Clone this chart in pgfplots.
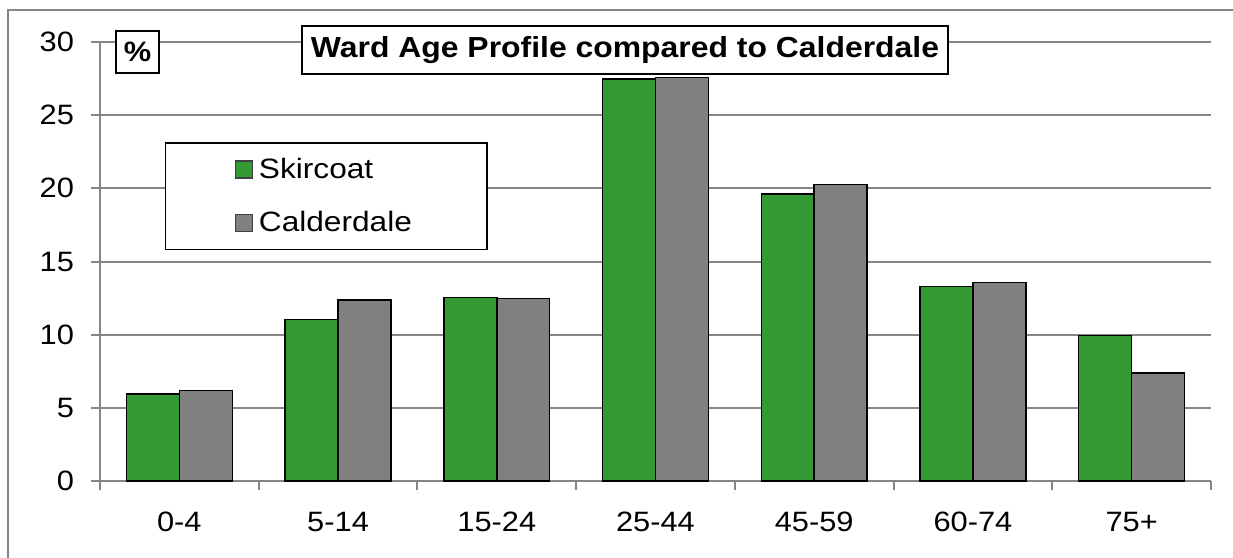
\documentclass[border=0pt]{standalone}
\usepackage{fontspec}
\setmainfont{Liberation Sans}
\usepackage{graphicx}
\usepackage{pgfplots}
\pgfplotsset{compat=1.18}
\definecolor{sgreen}{RGB}{51,153,51}
\definecolor{sgray}{RGB}{128,128,128}
\definecolor{gridgray}{RGB}{134,134,134}
\newcommand{\sx}[1]{\scalebox{1.1}[1]{#1}}
\begin{document}
\begin{tikzpicture}
\useasboundingbox (0,0) rectangle (616.5bp,-279bp);
\draw[gridgray, line width=1bp] (4bp,-280bp) -- (4bp,-5bp) -- (617bp,-5bp);
\begin{axis}[
  at={(50bp,-240.5bp)}, anchor=south west,
  scale only axis, width=555.5bp, height=219.5bp,
  xmin=-0.5, xmax=6.5, ymin=0, ymax=30,
  xtick={0,...,6},
  xticklabels={\sx{0-4},\sx{5-14},\sx{15-24},\sx{25-44},\sx{45-59},\sx{60-74},\sx{75+}},
  minor xtick={-0.5,0.5,...,6.5},
  ytick={0,5,...,30},
  yticklabel={\sx{\pgfmathprintnumber{\tick}}},
  ymajorgrids, major grid style={gridgray, line width=1bp},
  axis x line*=bottom, axis y line*=left,
  axis line style={gridgray, line width=1bp, -},
  tick align=outside,
  major tick length=4.5bp, minor tick length=4.5bp,
  tick style={gridgray, line width=1bp},
  major x tick style={draw=none},
  ticklabel style={font=\fontsize{14bp}{16bp}\selectfont, text=black},
  /pgf/number format/assume math mode=true,
  xticklabel style={yshift=-7.5bp},
  yticklabel style={xshift=-5bp},
  legend image code/.code={\draw[#1, draw=black!75, line width=0.6bp] (0bp,-4.25bp) rectangle (8.5bp,4.25bp);},
  legend style={at={(0.0585,0.772)}, anchor=north west, draw=black, line width=0.75bp, fill=white,
    font=\fontsize{14bp}{17bp}\selectfont, inner xsep=34.5bp, inner ysep=5.5bp, row sep=11bp,
    nodes={inner xsep=3bp, inner ysep=2bp}},
  legend cell align=left,
]
\addplot[ybar, bar width=0.3333, bar shift=-0.16667, fill=sgreen, draw=black, line width=0.75bp]
  coordinates {(0,5.93) (1,11.04) (2,12.54) (3,27.46) (4,19.6) (5,13.29) (6,9.93)};
\addplot[ybar, bar width=0.3333, bar shift=0.16667, fill=sgray, draw=black, line width=0.75bp]
  coordinates {(0,6.2) (1,12.38) (2,12.47) (3,27.57) (4,20.26) (5,13.58) (6,7.38)};
\legend{\scalebox{1.13}[1]{Skircoat}, \scalebox{1.13}[1]{Calderdale}}
\end{axis}
\node[draw=black, line width=0.75bp, fill=white, minimum width=323bp, minimum height=24bp, inner sep=0pt,
  font=\bfseries\fontsize{14.5bp}{17bp}\selectfont] at (312.5bp,-25bp) {\scalebox{1.1}[1]{Ward Age Profile compared to Calderdale}};
\node[draw=black, line width=0.75bp, fill=white, minimum width=21.5bp, minimum height=21bp, inner sep=0pt,
  font=\bfseries\fontsize{14bp}{17bp}\selectfont] at (68.75bp,-26bp) {\scalebox{1.1}[1]{\%}};
\end{tikzpicture}
\end{document}
